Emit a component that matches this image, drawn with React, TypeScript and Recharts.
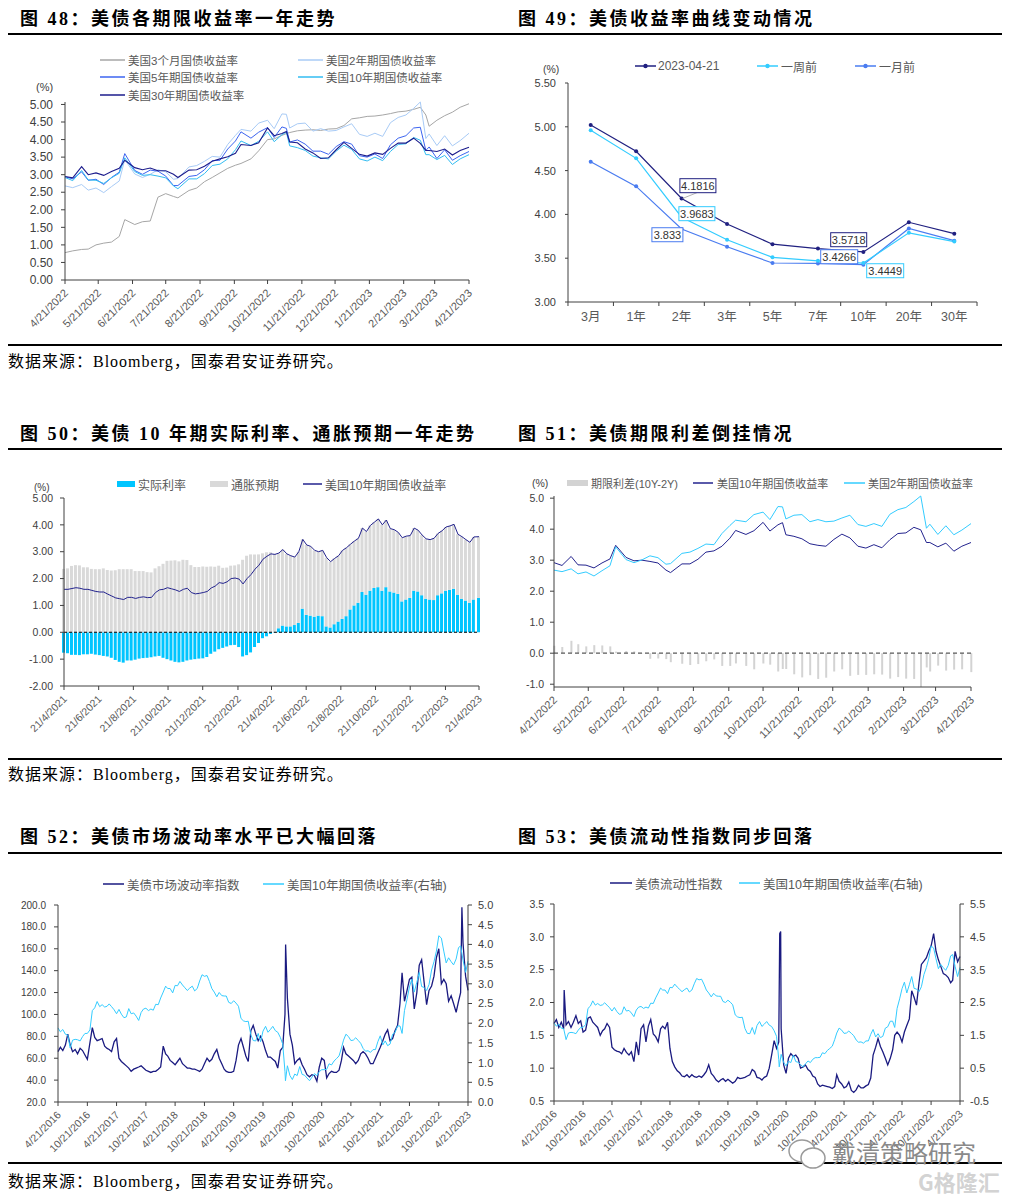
import React from 'react';
import { LineChart, Line, XAxis, YAxis, ComposedChart, Bar, ReferenceLine, LabelList } from 'recharts';

const SANS = "'Liberation Sans', Arial, 'Noto Sans CJK SC', sans-serif";
const TITLE_FONT = "'Liberation Serif', 'Noto Sans CJK SC', serif";

// ---------------- Fig 48 / 51 : one-year data ----------------
const dates1y = ['2022-04-21','2022-04-28','2022-05-06','2022-05-12','2022-05-19','2022-05-26','2022-06-02','2022-06-09','2022-06-14','2022-06-23','2022-06-30','2022-07-07','2022-07-14','2022-07-21','2022-07-28','2022-08-01','2022-08-11','2022-08-18','2022-08-25','2022-09-01','2022-09-08','2022-09-15','2022-09-22','2022-09-27','2022-10-06','2022-10-13','2022-10-21','2022-10-27','2022-11-03','2022-11-07','2022-11-10','2022-11-17','2022-11-24','2022-12-01','2022-12-08','2022-12-15','2022-12-22','2022-12-29','2023-01-05','2023-01-12','2023-01-19','2023-01-26','2023-02-02','2023-02-09','2023-02-16','2023-02-23','2023-03-02','2023-03-08','2023-03-13','2023-03-16','2023-03-23','2023-03-30','2023-04-06','2023-04-13','2023-04-21'];
const y3m = [0.78,0.83,0.87,0.88,1.00,1.05,1.08,1.24,1.72,1.58,1.66,1.68,2.36,2.46,2.38,2.34,2.55,2.62,2.80,2.92,3.05,3.18,3.27,3.32,3.45,3.68,4.00,4.02,4.12,4.17,4.20,4.25,4.27,4.28,4.26,4.30,4.31,4.40,4.59,4.62,4.66,4.67,4.70,4.74,4.79,4.81,4.86,4.92,4.70,4.38,4.55,4.68,4.78,4.92,5.02];
const y2 = [2.68,2.63,2.72,2.56,2.62,2.49,2.66,2.82,3.43,3.02,2.92,3.01,3.14,3.08,2.87,2.89,3.22,3.26,3.38,3.52,3.50,3.86,4.12,4.29,4.24,4.47,4.55,4.31,4.73,4.72,4.33,4.45,4.47,4.24,4.31,4.24,4.26,4.36,4.45,4.15,4.09,4.18,4.09,4.48,4.63,4.70,4.89,5.07,4.03,4.16,3.83,4.11,3.82,3.97,4.18];
const y5 = [2.94,2.88,3.08,2.84,2.87,2.72,2.92,3.07,3.60,3.12,3.01,3.13,3.10,2.96,2.69,2.69,2.95,2.98,3.14,3.40,3.41,3.73,3.96,4.22,4.04,4.21,4.34,4.06,4.36,4.32,3.93,3.99,3.87,3.67,3.67,3.58,3.80,3.94,3.87,3.54,3.50,3.59,3.46,3.85,4.04,4.11,4.33,4.35,3.69,3.79,3.46,3.71,3.41,3.54,3.66];
const y10 = [2.92,2.83,3.12,2.85,2.84,2.75,2.91,3.04,3.48,3.09,2.98,3.00,2.96,2.91,2.68,2.60,2.88,2.88,3.03,3.26,3.30,3.45,3.71,3.96,3.83,3.95,4.22,3.94,4.14,4.21,3.82,3.77,3.69,3.53,3.48,3.45,3.67,3.84,3.72,3.45,3.39,3.50,3.40,3.66,3.86,3.88,4.06,3.98,3.57,3.57,3.43,3.55,3.29,3.45,3.57];
const y30 = [2.95,2.91,3.23,3.00,3.05,2.98,3.09,3.18,3.41,3.20,3.14,3.19,3.11,3.11,3.01,2.92,3.13,3.14,3.24,3.38,3.45,3.51,3.61,3.86,3.83,3.91,4.33,4.11,4.17,4.23,3.93,3.91,3.73,3.62,3.46,3.48,3.71,3.92,3.75,3.58,3.53,3.62,3.58,3.75,3.90,3.90,4.04,3.89,3.69,3.69,3.66,3.73,3.56,3.69,3.78];
const ticks1yLabels = ['4/21/2022','5/21/2022','6/21/2022','7/21/2022','8/21/2022','9/21/2022','10/21/2022','11/21/2022','12/21/2022','1/21/2023','2/21/2023','3/21/2023','4/21/2023'];

// ---------------- Fig 49 : curve ----------------
const curveCats = ['3月','1年','2年','3年','5年','7年','10年','20年','30年'];
const curveNow = [5.02,4.72,4.1816,3.89,3.66,3.61,3.5718,3.91,3.78];
const curveWeek = [4.96,4.64,3.9683,3.71,3.51,3.47,3.4449,3.79,3.69];
const curveMonth = [4.60,4.32,3.833,3.63,3.445,3.44,3.4266,3.84,3.70];

// ---------------- Fig 50 : two-year weekly ----------------
const nominal2y = [1.60,1.60,1.63,1.66,1.64,1.60,1.60,1.56,1.52,1.50,1.50,1.42,1.35,1.28,1.25,1.22,1.30,1.30,1.26,1.30,1.32,1.29,1.30,1.48,1.58,1.60,1.66,1.62,1.58,1.52,1.60,1.64,1.48,1.43,1.45,1.48,1.52,1.65,1.72,1.85,1.82,1.88,2.00,2.02,1.98,1.80,2.00,2.15,2.35,2.50,2.72,2.83,2.92,2.90,2.95,3.08,2.92,2.85,2.80,3.00,3.46,3.25,3.20,3.05,3.00,3.05,2.78,2.63,2.75,2.85,3.05,3.15,3.28,3.40,3.50,3.88,3.75,3.98,4.10,4.22,4.00,4.18,3.86,3.82,3.72,3.52,3.58,3.60,3.88,3.80,3.62,3.48,3.45,3.50,3.68,3.78,3.92,3.96,4.02,3.65,3.56,3.45,3.35,3.55,3.56];
const real2y = [-0.76,-0.78,-0.84,-0.84,-0.85,-0.82,-0.82,-0.80,-0.83,-0.85,-0.88,-0.90,-0.95,-1.03,-1.10,-1.13,-1.05,-1.05,-1.02,-0.98,-0.96,-0.95,-0.93,-0.90,-0.88,-0.95,-1.00,-1.05,-1.10,-1.12,-1.10,-1.05,-1.02,-1.00,-0.98,-0.97,-0.92,-0.80,-0.72,-0.63,-0.58,-0.53,-0.48,-0.47,-0.55,-0.90,-0.85,-0.75,-0.55,-0.40,-0.22,-0.15,-0.06,-0.02,0.15,0.25,0.22,0.22,0.27,0.35,0.88,0.65,0.62,0.58,0.62,0.60,0.22,0.18,0.30,0.40,0.50,0.60,0.85,1.00,1.10,1.50,1.40,1.55,1.65,1.68,1.55,1.68,1.52,1.48,1.43,1.15,1.22,1.28,1.55,1.52,1.38,1.25,1.22,1.20,1.38,1.45,1.55,1.58,1.62,1.40,1.25,1.18,1.10,1.22,1.28];
const ticks2yLabels = ['21/4/2021','21/6/2021','21/8/2021','21/10/2021','21/12/2021','21/2/2022','21/4/2022','21/6/2022','21/8/2022','21/10/2022','21/12/2022','21/2/2023','21/4/2023'];

// ---------------- Fig 52 / 53 : seven-year semi-monthly ----------------
const y10Long = [1.88,1.78,1.84,1.72,1.70,1.37,1.57,1.59,1.58,1.55,1.66,1.74,1.74,1.83,2.32,2.39,2.55,2.42,2.47,2.41,2.43,2.49,2.42,2.34,2.24,2.35,2.23,2.14,2.16,2.37,2.24,2.26,2.18,2.07,2.27,2.36,2.38,2.32,2.36,2.33,2.48,2.47,2.64,2.79,2.94,2.88,2.88,2.77,2.96,2.95,3.06,2.97,2.90,2.83,2.89,2.94,2.82,2.88,3.07,3.23,3.19,3.21,3.06,2.88,2.79,2.67,2.78,2.70,2.69,2.69,2.53,2.50,2.57,2.51,2.43,2.12,2.06,2.04,2.05,1.71,1.56,1.55,1.74,1.53,1.80,1.92,1.77,1.84,1.92,1.81,1.77,1.64,1.47,0.77,0.92,0.67,0.57,0.71,0.67,0.90,0.70,0.68,0.61,0.54,0.63,0.72,0.67,0.77,0.82,0.82,0.83,0.97,0.94,1.04,1.10,1.17,1.37,1.57,1.72,1.66,1.56,1.57,1.63,1.56,1.49,1.36,1.29,1.30,1.26,1.33,1.33,1.53,1.68,1.45,1.55,1.43,1.47,1.72,1.76,1.93,1.93,1.74,2.32,2.61,2.92,3.12,2.79,3.04,3.29,2.93,2.91,2.83,2.98,3.35,3.56,3.83,4.22,4.16,3.83,3.53,3.66,3.56,3.48,3.63,3.92,3.96,3.60,3.29,3.57];
const y10LongExtraDates = ['2020-03-09'];
const y10LongExtra = [0.54];
const moveIdx = [66,70,67,72,82,72,66,68,64,69,67,63,59,74,88,79,76,77,78,71,69,68,66,75,78,60,57,55,53,51,48,50,51,52,53,51,49,48,47,48,48,50,52,71,64,62,58,56,54,57,60,55,53,51,51,50,50,49,48,50,55,60,57,59,64,68,60,55,50,48,47,47,48,58,72,78,70,62,57,85,90,82,76,80,75,67,61,61,59,57,51,67,70,100,115,82,72,55,58,60,54,50,45,43,45,44,39,52,60,58,42,46,48,47,47,49,58,70,64,62,60,58,55,58,64,66,64,60,55,55,60,65,70,76,82,86,76,78,85,90,110,138,112,122,132,134,105,120,145,150,130,109,122,126,135,152,160,128,132,128,112,117,110,102,112,120,165,135,122];
const moveExtraDates = ['2020-03-10','2023-03-14'];
const moveExtra = [164,198];
const liqIdx = [1.68,1.74,1.62,1.70,1.60,1.66,1.71,1.62,1.70,1.80,1.68,1.72,1.55,1.58,1.76,1.78,1.70,1.66,1.62,1.50,1.57,1.60,1.68,1.62,1.32,1.28,1.26,1.25,1.22,1.30,1.24,1.20,1.25,1.10,1.40,1.20,1.60,1.66,1.40,1.64,1.74,1.52,1.48,1.40,1.60,1.64,1.60,1.70,1.30,1.10,1.02,0.96,0.93,0.88,0.87,0.90,0.86,0.90,0.87,0.86,0.88,0.86,0.90,0.95,1.05,0.92,0.88,0.82,0.79,0.82,0.84,0.80,0.83,0.80,0.77,0.80,0.86,0.84,0.85,0.86,0.88,0.90,0.98,0.95,0.86,0.85,0.82,0.86,0.88,1.00,1.20,1.42,1.30,1.40,1.60,1.05,0.92,1.15,1.22,1.18,1.20,1.15,1.00,1.02,1.05,0.98,0.95,0.88,0.86,0.76,0.72,0.74,0.73,0.72,0.71,0.69,0.72,0.90,0.80,0.76,0.70,0.72,0.79,0.66,0.63,0.67,0.74,0.70,0.70,0.73,0.75,0.85,1.20,1.32,1.45,1.33,1.25,1.15,1.05,1.15,1.28,1.50,1.55,1.50,1.40,1.55,1.65,1.75,2.18,2.08,1.96,2.30,2.58,2.63,2.68,2.78,2.86,3.05,2.78,2.65,2.55,2.44,2.42,2.38,2.30,2.34,2.78,2.62,2.70];
const liqExtraDates = ['2016-06-24','2020-03-12','2020-03-18'];
const liqExtra = [2.19,3.05,3.08];
const ticks7yLabels = ['4/21/2016','10/21/2016','4/21/2017','10/21/2017','4/21/2018','10/21/2018','4/21/2019','10/21/2019','4/21/2020','10/21/2020','4/21/2021','10/21/2021','4/21/2022','10/21/2022','4/21/2023'];

// ---------------- helpers ----------------
const DAY = 86400000;
const ts = (s: string) => { const [y, m, d] = s.split('-').map(Number); return Date.UTC(y, m - 1, d); };
const fromMDY = (s: string) => { const [m, d, y] = s.split('/').map(Number); return Date.UTC(y, m - 1, d); };
const fromDMY = (s: string) => { const [d, m, y] = s.split('/').map(Number); return Date.UTC(y, m - 1, d); };
const pad = (n: number) => (n < 10 ? '0' + n : '' + n);

const semiMonthly = (() => {
  const out: string[] = [];
  for (let k = 0; k <= 84; k++) {
    const yy = 2016 + Math.floor((3 + k) / 12);
    const mm = ((3 + k) % 12) + 1;
    out.push(`${yy}-${pad(mm)}-21`);
    if (k < 84) {
      const k2 = k + 1;
      const y2_ = 2016 + Math.floor((3 + k2) / 12);
      const m2_ = ((3 + k2) % 12) + 1;
      out.push(`${y2_}-${pad(m2_)}-06`);
    }
  }
  return out;
})();

const weekly2y = (() => {
  const out: number[] = [];
  const start = Date.UTC(2021, 3, 21);
  for (let i = 0; i < 104; i++) out.push(start + i * 7 * DAY);
  out.push(Date.UTC(2023, 3, 21));
  return out;
})();

const mergeSeries = (series: Record<string, { dates: string[]; values: number[] }>) => {
  const map = new Map<number, any>();
  Object.keys(series).forEach((key) => {
    const s = series[key];
    s.dates.forEach((d, i) => {
      const t = ts(d);
      const row = map.get(t) || { t };
      row[key] = s.values[i];
      map.set(t, row);
    });
  });
  return Array.from(map.values()).sort((a, b) => a.t - b.t);
};

const table1y = dates1y.map((d, i) => ({ t: ts(d), m3: y3m[i], y2: y2[i], y5: y5[i], y10: y10[i], y30: y30[i], spread: +(y10[i] - y2[i]).toFixed(2) }));
const curveTable = curveCats.map((c, i) => ({ cat: c, now: curveNow[i], week: curveWeek[i], month: curveMonth[i] }));
const table2y = weekly2y.map((t, i) => ({ t, real: real2y[i], be: +(nominal2y[i] - real2y[i]).toFixed(2), nom: nominal2y[i] }));
const table52 = mergeSeries({
  move: { dates: [...semiMonthly, ...moveExtraDates], values: [...moveIdx, ...moveExtra] },
  y10: { dates: [...semiMonthly, ...y10LongExtraDates], values: [...y10Long, ...y10LongExtra] },
});
const table53 = mergeSeries({
  liq: { dates: [...semiMonthly, ...liqExtraDates], values: [...liqIdx, ...liqExtra] },
  y10: { dates: [...semiMonthly, ...y10LongExtraDates], values: [...y10Long, ...y10LongExtra] },
});

const ticks1y = ticks1yLabels.map(fromMDY);
const ticks2y = ticks2yLabels.map(fromDMY);
const ticks7y = ticks7yLabels.map(fromMDY);
const lab1y = new Map(ticks1y.map((t, i) => [t, ticks1yLabels[i]] as [number, string]));
const lab2y = new Map(ticks2y.map((t, i) => [t, ticks2yLabels[i]] as [number, string]));
const lab7y = new Map(ticks7y.map((t, i) => [t, ticks7yLabels[i]] as [number, string]));

const AX = '#404040';
const TXT = '#404040';
const LEG = '#595959';

const makeRotTick = (labels: Map<number, string>, fontSize: number) => (props: any) => {
  const { x, y, payload } = props;
  return (
    <g transform={`translate(${x + 1},${y + 5})`}>
      <text x={0} y={0} dy="0.35em" textAnchor="end" transform="rotate(-45)" fontSize={fontSize} fill={LEG} fontFamily={SANS}>
        {labels.get(payload.value) ?? ''}
      </text>
    </g>
  );
};

// ---------------- small layout components ----------------
const Title = ({ x, y, children }: any) => (
  <div style={{ position: 'absolute', left: x, top: y, fontFamily: TITLE_FONT, fontWeight: 700, fontSize: 18, letterSpacing: '2.5px', lineHeight: '20px', whiteSpace: 'nowrap', color: '#000' }}>{children}</div>
);
const Rule = ({ y }: any) => <div style={{ position: 'absolute', left: 8, top: y, width: 994, height: 2, background: '#000' }} />;
const Source = ({ y }: any) => (
  <div style={{ position: 'absolute', left: 8, top: y, fontFamily: TITLE_FONT, fontSize: 16, letterSpacing: '1px', lineHeight: '20px', whiteSpace: 'nowrap', color: '#000' }}>数据来源：Bloomberg，国泰君安证券研究。</div>
);
const Txt = ({ x, y, size = 11, children }: any) => (
  <div style={{ position: 'absolute', left: x, top: y - 8, height: 16, lineHeight: '16px', fontSize: size, fontFamily: SANS, color: TXT, whiteSpace: 'nowrap' }}>{children}</div>
);
const Leg = ({ x, y, w, color, label, size = 11.5, kind = 'line', marker = false, tx }: any) => (
  <div style={{ position: 'absolute', left: x, top: y - 8, height: 16, display: 'flex', alignItems: 'center', whiteSpace: 'nowrap', fontSize: size, fontFamily: SANS, color: LEG }}>
    <svg width={w} height={10} style={{ display: 'block' }}>
      {kind === 'rect' ? <rect x={0} y={2} width={w} height={6} fill={color} /> : <line x1={0} y1={5} x2={w} y2={5} stroke={color} strokeWidth={1.5} />}
      {marker && <circle cx={w / 2} cy={5} r={2.2} fill={color} />}
    </svg>
    <span style={{ marginLeft: tx }}>{label}</span>
  </div>
);

// ---------------- chart 49 helpers ----------------
const C_NOW = '#202080';
const C_WEEK = '#33ccff';
const C_MONTH = '#4a7cf0';
const boxLabel = (cfg: Record<number, { dx: number; dy: number; w: number; leader?: boolean }>, color: string) => (props: any) => {
  const { x, y, value, index } = props;
  const c = cfg[index];
  if (!c || x == null || y == null) return null;
  const bx = x + c.dx;
  const by = y + c.dy;
  return (
    <g>
      {c.leader && <line x1={x + 1} y1={y} x2={bx + 17} y2={by + 14} stroke="#a0a0a0" strokeWidth={0.8} />}
      <rect x={bx} y={by} width={c.w} height={14} fill="#fff" stroke={color} strokeWidth={1} />
      <text x={bx + c.w / 2} y={by + 7} dy="0.35em" textAnchor="middle" fontSize={11} fill="#333" fontFamily={SANS}>{value}</text>
    </g>
  );
};
const CurveTick = (props: any) => {
  const { x, y, payload, index } = props;
  const half = 409 / 18;
  return (
    <g>
      <line x1={x - half} x2={x - half} y1={y} y2={y + 4} stroke={AX} />
      {index === curveCats.length - 1 && <line x1={x + half} x2={x + half} y1={y} y2={y + 4} stroke={AX} />}
      <text x={x} y={y + 15} dy="0.35em" textAnchor="middle" fontSize={12.5} fill={LEG} fontFamily={SANS}>{payload.value}</text>
    </g>
  );
};

const yTick = (size: number) => ({ fontSize: size, fill: TXT, fontFamily: SANS });

export default function App() {
  return (
    <div style={{ position: 'absolute', left: 0, top: 0, width: 1016, height: 1200, background: '#fff', overflow: 'hidden', fontFamily: SANS }}>
      {/* ---------- Row 1 ---------- */}
      <Title x={20} y={8.5}>图 48：美债各期限收益率一年走势</Title>
      <Title x={518} y={8.5}>图 49：美债收益率曲线变动情况</Title>
      <Rule y={33} />

      <Leg x={100} y={60} w={25} tx={3} color="#a6a6a6" label="美国3个月国债收益率" />
      <Leg x={298} y={60} w={25} tx={3} color="#a8cbf6" label="美国2年期国债收益率" />
      <Leg x={100} y={77} w={25} tx={3} color="#3c64f0" label="美国5年期国债收益率" />
      <Leg x={298} y={77} w={25} tx={3} color="#33bdf2" label="美国10年期国债收益率" />
      <Leg x={100} y={95} w={25} tx={3} color="#1c1c8c" label="美国30年期国债收益率" />
      <Txt x={36} y={87} size={11}>(%)</Txt>

      <div style={{ position: 'absolute', left: 0, top: 40 }}>
        <LineChart width={508} height={302} data={table1y} margin={{ top: 62, right: 39, bottom: 0, left: 10 }}>
          <XAxis dataKey="t" type="number" domain={[ticks1y[0], ticks1y[ticks1y.length - 1]]} ticks={ticks1y} interval={0} height={62}
            axisLine={{ stroke: AX }} tickLine={{ stroke: AX }} tickSize={4} tick={makeRotTick(lab1y, 11)} />
          <YAxis type="number" domain={[0, 5]} ticks={[0, 0.5, 1, 1.5, 2, 2.5, 3, 3.5, 4, 4.5, 5]} interval={0} width={55}
            axisLine={{ stroke: AX }} tickLine={{ stroke: AX }} tickSize={4} tickMargin={8} tick={yTick(12)} tickFormatter={(v: number) => v.toFixed(2)} />
          <Line dataKey="m3" stroke="#a6a6a6" strokeWidth={1} dot={false} isAnimationActive={false} />
          <Line dataKey="y2" stroke="#a8cbf6" strokeWidth={1} dot={false} isAnimationActive={false} />
          <Line dataKey="y5" stroke="#3c64f0" strokeWidth={1} dot={false} isAnimationActive={false} />
          <Line dataKey="y10" stroke="#33bdf2" strokeWidth={1} dot={false} isAnimationActive={false} />
          <Line dataKey="y30" stroke="#1c1c8c" strokeWidth={1.1} dot={false} isAnimationActive={false} />
        </LineChart>
      </div>

      <Leg x={635} y={66} w={21} tx={2} color={C_NOW} marker label="2023-04-21" size={12} />
      <Leg x={757} y={66} w={21} tx={3} color={C_WEEK} marker label="一周前" size={12} />
      <Leg x={855} y={66} w={21} tx={3} color={C_MONTH} marker label="一月前" size={12} />
      <Txt x={543} y={69} size={10.5}>(%)</Txt>

      <div style={{ position: 'absolute', left: 508, top: 40 }}>
        <LineChart width={508} height={290} data={curveTable} margin={{ top: 43, right: 39, bottom: 0, left: 10 }}>
          <XAxis dataKey="cat" type="category" padding={{ left: 22.7, right: 22.7 }} interval={0} height={28}
            axisLine={{ stroke: AX }} tickLine={false} tickSize={0} tickMargin={0} tick={CurveTick} />
          <YAxis type="number" domain={[3, 5.5]} ticks={[3, 3.5, 4, 4.5, 5, 5.5]} interval={0} width={50}
            axisLine={{ stroke: AX }} tickLine={{ stroke: AX }} tickSize={3} tickMargin={9} tick={yTick(11)} tickFormatter={(v: number) => v.toFixed(2)} />
          <Line dataKey="month" stroke={C_MONTH} strokeWidth={1.2} dot={{ r: 2, fill: C_MONTH, stroke: C_MONTH, strokeWidth: 0 }} activeDot={false} isAnimationActive={false}>
            <LabelList dataKey="month" content={boxLabel({ 2: { dx: -29.7, dy: -1.3, w: 31 }, 6: { dx: -42.7, dy: -14.9, w: 37 } }, C_MONTH)} />
          </Line>
          <Line dataKey="week" stroke={C_WEEK} strokeWidth={1.2} dot={{ r: 2, fill: C_WEEK, stroke: C_WEEK, strokeWidth: 0 }} activeDot={false} isAnimationActive={false}>
            <LabelList dataKey="week" content={boxLabel({ 2: { dx: -2.7, dy: -10.5, w: 36 }, 6: { dx: 3.3, dy: 0.7, w: 37 } }, C_WEEK)} />
          </Line>
          <Line dataKey="now" stroke={C_NOW} strokeWidth={1.2} dot={{ r: 2, fill: C_NOW, stroke: C_NOW, strokeWidth: 0 }} activeDot={false} isAnimationActive={false}>
            <LabelList dataKey="now" content={boxLabel({ 2: { dx: -1.7, dy: -19.8, w: 36, leader: true }, 6: { dx: -32.7, dy: -19.2, w: 36 } }, C_NOW)} />
          </Line>
        </LineChart>
      </div>

      <Rule y={344} />
      <Source y={352} />

      {/* ---------- Row 2 ---------- */}
      <Title x={20} y={423.5}>图 50：美债 10 年期实际利率、通胀预期一年走势</Title>
      <Title x={518} y={423.5}>图 51：美债期限利差倒挂情况</Title>
      <Rule y={448} />

      <Leg x={117} y={484} w={18} tx={3} kind="rect" color="#00c5ff" label="实际利率" size={12} />
      <Leg x={210} y={484} w={18} tx={3} kind="rect" color="#d9d9d9" label="通胀预期" size={12} />
      <Leg x={303} y={484} w={19} tx={3} color="#23238e" label="美国10年期国债收益率" size={12} />
      <Txt x={34} y={488} size={10}>(%)</Txt>

      <div style={{ position: 'absolute', left: 0, top: 455 }}>
        <ComposedChart width={508} height={300} data={table2y} stackOffset="sign" margin={{ top: 43, right: 29, bottom: 0, left: 10 }}>
          <XAxis dataKey="t" type="number" domain={[ticks2y[0], ticks2y[ticks2y.length - 1]]} ticks={ticks2y} interval={0} height={69}
            axisLine={{ stroke: AX }} tickLine={{ stroke: AX }} tickSize={4} tick={makeRotTick(lab2y, 10.5)} />
          <YAxis type="number" domain={[-2, 5]} ticks={[-2, -1, 0, 1, 2, 3, 4, 5]} interval={0} width={54}
            axisLine={{ stroke: AX }} tickLine={{ stroke: AX }} tickSize={4} tickMargin={7} tick={yTick(10.5)} tickFormatter={(v: number) => v.toFixed(2)} />
          <Bar dataKey="real" stackId="a" fill="#00c5ff" barSize={3} isAnimationActive={false} />
          <Bar dataKey="be" stackId="a" fill="#d9d9d9" barSize={3} isAnimationActive={false} />
          <ReferenceLine y={0} stroke="#000" strokeDasharray="3 2" strokeWidth={1.1} />
          <Line dataKey="nom" stroke="#23238e" strokeWidth={1} dot={false} isAnimationActive={false} />
        </ComposedChart>
      </div>

      <Leg x={567} y={483} w={21} tx={3} kind="rect" color="#d3d3d3" label="期限利差(10Y-2Y)" size={11} />
      <Leg x={693} y={483} w={20} tx={4} color="#23238e" label="美国10年期国债收益率" size={11} />
      <Leg x={844} y={483} w={21} tx={3} color="#33ccff" label="美国2年期国债收益率" size={11} />
      <Txt x={532} y={483} size={10.5}>(%)</Txt>

      <div style={{ position: 'absolute', left: 508, top: 455 }}>
        <ComposedChart width={508} height={300} data={table1y} margin={{ top: 41, right: 45, bottom: 0, left: 8 }}>
          <XAxis dataKey="t" type="number" domain={[ticks1y[0], ticks1y[ticks1y.length - 1]]} ticks={ticks1y} interval={0} height={68}
            axisLine={{ stroke: AX }} tickLine={{ stroke: AX }} tickSize={4} tick={makeRotTick(lab1y, 11)} />
          <YAxis type="number" domain={[-1, 5]} ticks={[-1, 0, 1, 2, 3, 4, 5]} interval={0} width={38}
            axisLine={{ stroke: AX }} tickLine={{ stroke: AX }} tickSize={4} tickMargin={6} tick={yTick(10.5)} tickFormatter={(v: number) => v.toFixed(1)} />
          <Bar dataKey="spread" fill="#d3d3d3" barSize={2} isAnimationActive={false} />
          <ReferenceLine y={0} stroke="#595959" strokeDasharray="4 3" strokeWidth={1.2} />
          <Line dataKey="y10" stroke="#23238e" strokeWidth={1} dot={false} isAnimationActive={false} />
          <Line dataKey="y2" stroke="#33ccff" strokeWidth={1} dot={false} isAnimationActive={false} />
        </ComposedChart>
      </div>

      <Rule y={758} />
      <Source y={765} />

      {/* ---------- Row 3 ---------- */}
      <Title x={20} y={826.5}>图 52：美债市场波动率水平已大幅回落</Title>
      <Title x={518} y={826.5}>图 53：美债流动性指数同步回落</Title>
      <Rule y={852} />

      <Leg x={103} y={884} w={21} tx={3} color="#1a1a80" label="美债市场波动率指数" size={12.5} />
      <Leg x={263} y={884} w={21} tx={3} color="#33ccff" label="美国10年期国债收益率(右轴)" size={12.5} />

      <div style={{ position: 'absolute', left: 0, top: 860 }}>
        <LineChart width={508} height={300} data={table52} margin={{ top: 45, right: 5, bottom: 0, left: 8 }}>
          <XAxis dataKey="t" type="number" domain={[ticks7y[0], ticks7y[ticks7y.length - 1]]} ticks={ticks7y} interval={0} height={58}
            axisLine={{ stroke: AX }} tickLine={{ stroke: AX }} tickSize={4} tick={makeRotTick(lab7y, 10.5)} />
          <YAxis yAxisId="l" type="number" domain={[20, 200]} ticks={[20, 40, 60, 80, 100, 120, 140, 160, 180, 200]} interval={0} width={50}
            axisLine={{ stroke: AX }} tickLine={{ stroke: AX }} tickSize={4} tickMargin={8} tick={yTick(10)} tickFormatter={(v: number) => v.toFixed(1)} />
          <YAxis yAxisId="r" orientation="right" type="number" domain={[0, 5]} ticks={[0, 0.5, 1, 1.5, 2, 2.5, 3, 3.5, 4, 4.5, 5]} interval={0} width={35}
            axisLine={{ stroke: AX }} tickLine={{ stroke: AX }} tickSize={4} tickMargin={6} tick={yTick(11)} tickFormatter={(v: number) => v.toFixed(1)} />
          <Line yAxisId="l" dataKey="move" stroke="#1a1a80" strokeWidth={1.3} dot={false} connectNulls isAnimationActive={false} />
          <Line yAxisId="r" dataKey="y10" stroke="#33ccff" strokeWidth={1} dot={false} connectNulls isAnimationActive={false} />
        </LineChart>
      </div>

      <Leg x={610} y={883} w={22} tx={3} color="#1a1a80" label="美债流动性指数" size={12.5} />
      <Leg x={739} y={883} w={21} tx={3} color="#33ccff" label="美国10年期国债收益率(右轴)" size={12.5} />

      <div style={{ position: 'absolute', left: 508, top: 860 }}>
        <LineChart width={508} height={300} data={table53} margin={{ top: 44, right: 16, bottom: 0, left: 8 }}>
          <XAxis dataKey="t" type="number" domain={[ticks7y[0], ticks7y[ticks7y.length - 1]]} ticks={ticks7y} interval={0} height={59}
            axisLine={{ stroke: AX }} tickLine={{ stroke: AX }} tickSize={4} tick={makeRotTick(lab7y, 10.5)} />
          <YAxis yAxisId="l" type="number" domain={[0.5, 3.5]} ticks={[0.5, 1, 1.5, 2, 2.5, 3, 3.5]} interval={0} width={38}
            axisLine={{ stroke: AX }} tickLine={{ stroke: AX }} tickSize={4} tickMargin={6} tick={yTick(10.5)} tickFormatter={(v: number) => v.toFixed(1)} />
          <YAxis yAxisId="r" orientation="right" type="number" domain={[-0.5, 5.5]} ticks={[-0.5, 0.5, 1.5, 2.5, 3.5, 4.5, 5.5]} interval={0} width={40}
            axisLine={{ stroke: AX }} tickLine={{ stroke: AX }} tickSize={4} tickMargin={6} tick={yTick(11)} tickFormatter={(v: number) => v.toFixed(1)} />
          <Line yAxisId="l" dataKey="liq" stroke="#1a1a80" strokeWidth={1.3} dot={false} connectNulls isAnimationActive={false} />
          <Line yAxisId="r" dataKey="y10" stroke="#33ccff" strokeWidth={1} dot={false} connectNulls isAnimationActive={false} />
        </LineChart>
      </div>

      <Rule y={1162} />
      <Source y={1171.5} />

      {/* watermarks */}
      <svg style={{ position: 'absolute', left: 786, top: 1136 }} width={44} height={36}>
        <ellipse cx={16} cy={15} rx={13} ry={11} fill="#fff" stroke="#9a9a9a" strokeWidth={1.5} />
        <ellipse cx={27} cy={22} rx={12} ry={10} fill="#fff" stroke="#9a9a9a" strokeWidth={1.5} />
      </svg>
      <div style={{ position: 'absolute', left: 832, top: 1138, fontSize: 24, lineHeight: '28px', fontFamily: "'Noto Sans CJK SC', sans-serif", color: '#8a8a8a', whiteSpace: 'nowrap' }}>戴清策略研究</div>
      <div style={{ position: 'absolute', left: 918, top: 1168, fontSize: 22, lineHeight: '26px', fontWeight: 700, fontFamily: "'Noto Sans CJK SC', sans-serif", color: 'rgba(205,205,205,0.9)', whiteSpace: 'nowrap' }}>G格隆汇</div>
    </div>
  );
}
